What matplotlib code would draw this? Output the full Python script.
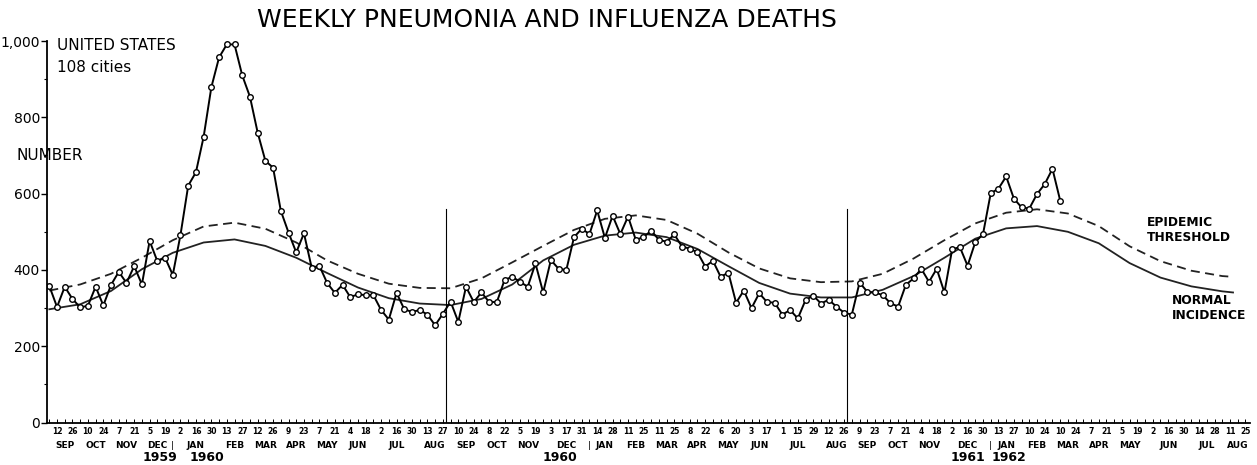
import matplotlib
matplotlib.use('Agg')
import matplotlib.pyplot as plt

# weekly deaths, 108 cities, week 0 = first week of Sep 1959
deaths = [358, 303, 356, 324, 302, 306, 356, 307, 361, 395,
          366, 410, 362, 476, 423, 432, 387, 492, 621, 656,
          749, 879, 957, 991, 991, 910, 854, 760, 686, 668,
          555, 498, 446, 496, 406, 411, 366, 340, 361, 329,
          336, 334, 334, 295, 270, 340, 297, 290, 295, 283,
          255, 285,
          317, 264, 356, 316, 341, 316, 316, 374, 382, 369,
          356, 417, 341, 426, 403, 400, 486, 508, 494, 556,
          484, 542, 494, 540, 479, 486, 503, 479, 474, 493,
          461, 456, 446, 409, 424, 382, 393, 314, 346, 300,
          339, 316, 314, 283, 295, 273, 321, 333, 312, 322,
          304, 288,
          283, 367, 343, 341, 334, 313, 304, 361, 378, 403,
          369, 403, 341, 454, 460, 411, 473, 494, 601, 613,
          645, 587, 564, 561, 599, 625, 665, 582]
weeks = list(range(len(deaths)))

# expected curves read every 4 weeks
curve_weeks = [0, 4, 8, 12, 16, 20, 24, 28, 32, 36, 40, 44, 48, 52, 56, 60,
               64, 68, 72, 76, 80, 84, 88, 92, 96, 100, 104, 108, 112, 116,
               120, 124, 128, 132, 136, 140, 144, 148, 152, 153.4]
normal = [297, 310, 345, 402, 445, 472, 480, 463, 432, 392, 354, 326, 312,
          308, 324, 362, 425, 466, 490, 498, 486, 455, 410, 366, 338, 328,
          328, 348, 384, 432, 482, 509, 515, 500, 470, 418, 380, 357, 344, 341]
threshold = [346, 362, 390, 432, 478, 514, 524, 508, 472, 425, 390, 364, 353,
             352, 378, 420, 463, 505, 534, 543, 531, 495, 446, 404, 378, 368,
             370, 390, 430, 478, 522, 550, 559, 548, 515, 462, 423, 398, 384, 382]

day_labels = ['12', '26', '10', '24', '7', '21', '5', '19', '2', '16', '30', '13', '27',
              '12', '26', '9', '23', '7', '21', '4', '18', '2', '16', '30', '13', '27',
              '10', '24', '8', '22', '5', '19', '3', '17', '31', '14', '28', '11', '25',
              '11', '25', '8', '22', '6', '20', '3', '17', '1', '15', '29', '12', '26',
              '9', '23', '7', '21', '4', '18', '2', '16', '30', '13', '27', '10', '24',
              '10', '24', '7', '21', '5', '19', '2', '16', '30', '14', '28', '11', '25']
month_names = ['SEP', 'OCT', 'NOV', 'DEC', 'JAN', 'FEB', 'MAR', 'APR', 'MAY', 'JUN', 'JUL', 'AUG'] * 3
month_counts = [2, 2, 2, 2, 3, 2, 2, 2, 2, 2, 3, 2,
                2, 2, 2, 3, 2, 2, 2, 2, 2, 2, 3, 2,
                2, 2, 2, 3, 2, 2, 2, 2, 2, 3, 2, 2]
years = ['1959', '1960', '1960', '1961', '1962']
year_pos = [14.3, 20.4, 66.2, 119.0, 124.4]
year_marks = [16, 70, 122]
season_breaks = [51.4, 103.4]

fig = plt.figure(figsize=(12.57, 4.65), dpi=100)
ax = fig.add_axes([47/1257, 42.4/465, 1203/1257, 381.6/465])

ax.plot(curve_weeks, threshold, color='#222222', lw=1.3, dashes=(5, 3))
ax.plot(curve_weeks, normal, color='#222222', lw=1.3)
ax.plot(weeks, deaths, '-o', color='black', lw=1.4, ms=4,
        mfc='white', mec='black', mew=1.0)
for b in season_breaks:
    ax.plot([b, b], [0, 560], color='black', lw=0.8)

ax.set_xlim(-0.3, 155.6)
ax.set_ylim(0, 1000)
ax.spines['top'].set_visible(False)
ax.spines['right'].set_visible(False)
ax.spines['left'].set_linewidth(1.3)
ax.spines['bottom'].set_linewidth(1.3)

ax.set_yticks([0, 200, 400, 600, 800, 1000])
ax.set_yticklabels(['0', '200', '400', '600', '800', '1,000'], fontsize=10)
ax.set_yticks([100, 300, 500, 700, 900], minor=True)
ax.tick_params(axis='y', which='major', direction='out', length=4, width=1, pad=1)
ax.tick_params(axis='y', which='minor', direction='out', length=2, width=0.8)

tick_pos = [1 + 2 * j for j in range(len(day_labels))]
ax.set_xticks(tick_pos)
ax.set_xticklabels(day_labels, fontsize=5.5, fontweight='bold')
ax.set_xticks(list(range(156)), minor=True)
ax.tick_params(axis='x', which='both', direction='in', length=3, width=0.7, pad=3)

# month names under the day numbers
k = 0
for name, n in zip(month_names, month_counts):
    centre = sum(tick_pos[k:k + n]) / n
    ax.annotate(name, xy=(centre, 0), xytext=(0, -16.2), textcoords='offset points',
                ha='center', va='center', fontsize=6.5, fontweight='bold',
                annotation_clip=False)
    k += n
for m in year_marks:
    ax.annotate('|', xy=(m, 0), xytext=(0, -16.2), textcoords='offset points',
                ha='center', va='center', fontsize=6.5, annotation_clip=False)
for y, p in zip(years, year_pos):
    ax.annotate(y, xy=(p, 0), xytext=(0, -25), textcoords='offset points',
                ha='center', va='center', fontsize=9, fontweight='bold',
                annotation_clip=False)

fig.text(547/1257, 1 - 20/465, 'WEEKLY PNEUMONIA AND INFLUENZA DEATHS',
         ha='center', va='center', fontsize=18)
fig.text(57/1257, 1 - 45/465, 'UNITED STATES', ha='left', va='center', fontsize=11)
fig.text(57/1257, 1 - 68/465, '108 cities', ha='left', va='center', fontsize=11)
fig.text(16/1257, 1 - 155/465, 'NUMBER', ha='left', va='center', fontsize=11)
fig.text(1147/1257, 1 - 230/465, 'EPIDEMIC\nTHRESHOLD', ha='left', va='center',
         fontsize=8.8, fontweight='bold', linespacing=1.25)
fig.text(1172/1257, 1 - 308/465, 'NORMAL\nINCIDENCE', ha='left', va='center',
         fontsize=8.8, fontweight='bold', linespacing=1.25)

fig.savefig('out.png', dpi=100, facecolor='white')
